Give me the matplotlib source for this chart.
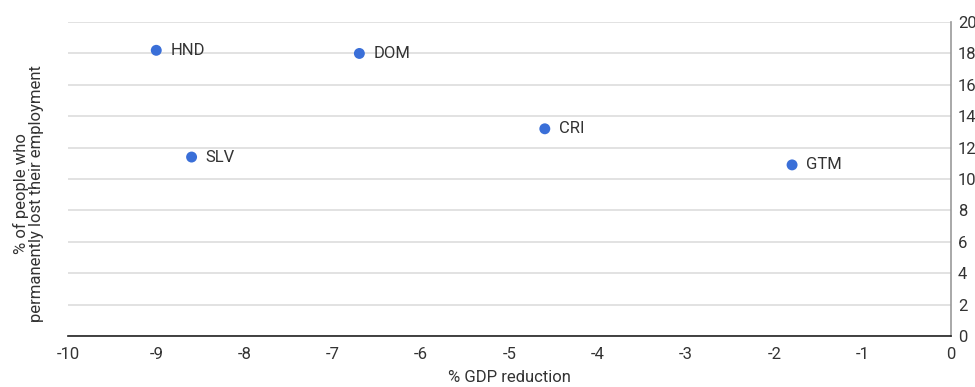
import matplotlib.pyplot as plt
from matplotlib import font_manager

# country codes and values
countries = ["HND", "DOM", "CRI", "SLV", "GTM"]
gdp_reduction = [-9.0, -6.7, -4.6, -8.6, -1.8]
lost_employment = [18.2, 18.0, 13.2, 11.4, 10.9]

x_ticks = list(range(-10, 1))
y_ticks = list(range(0, 21, 2))

names = {f.name for f in font_manager.fontManager.ttflist}
fam = "Liberation Sans Narrow" if "Liberation Sans Narrow" in names else "Roboto"
plt.rcParams['font.family'] = [fam, 'DejaVu Sans']
plt.rcParams['axes.unicode_minus'] = False

text_col = "#333333"

fig = plt.figure(figsize=(9.75, 3.87), dpi=100)
ax = fig.add_axes([0.0697, 0.1318, 0.9057, 0.8112])

ax.scatter(gdp_reduction, lost_employment, s=62, color="#3a6fd8", zorder=3,
           edgecolors="none")
for name, x, y in zip(countries, gdp_reduction, lost_employment):
    ax.annotate(name, (x, y), xytext=(10, 0), textcoords="offset points",
                va="center", ha="left", fontsize=12, color=text_col)

ax.set_xlim(-10, 0)
ax.set_ylim(0, 20)
ax.set_xticks(x_ticks)
ax.set_yticks(y_ticks)
ax.yaxis.tick_right()
ax.tick_params(axis="both", length=0, labelsize=12, labelcolor=text_col)
ax.tick_params(axis="x", pad=8)
ax.tick_params(axis="y", pad=5)

ax.grid(axis="y", color="#dddddd", linewidth=1.2)
ax.set_axisbelow(True)
for s in ["top", "left"]:
    ax.spines[s].set_visible(False)
ax.spines["bottom"].set_color("#222222")
ax.spines["bottom"].set_linewidth(1.2)
ax.spines["right"].set_color("#999999")
ax.spines["right"].set_linewidth(1.2)

ax.set_xlabel("% GDP reduction", fontsize=12, color=text_col, labelpad=6)
fig.text(0.029, 0.5, "% of people who\npermanently lost their employment",
         rotation=90, ha="center", va="center", fontsize=12, color=text_col,
         multialignment="center", linespacing=1.0)

fig.savefig("out.png", dpi=100)
